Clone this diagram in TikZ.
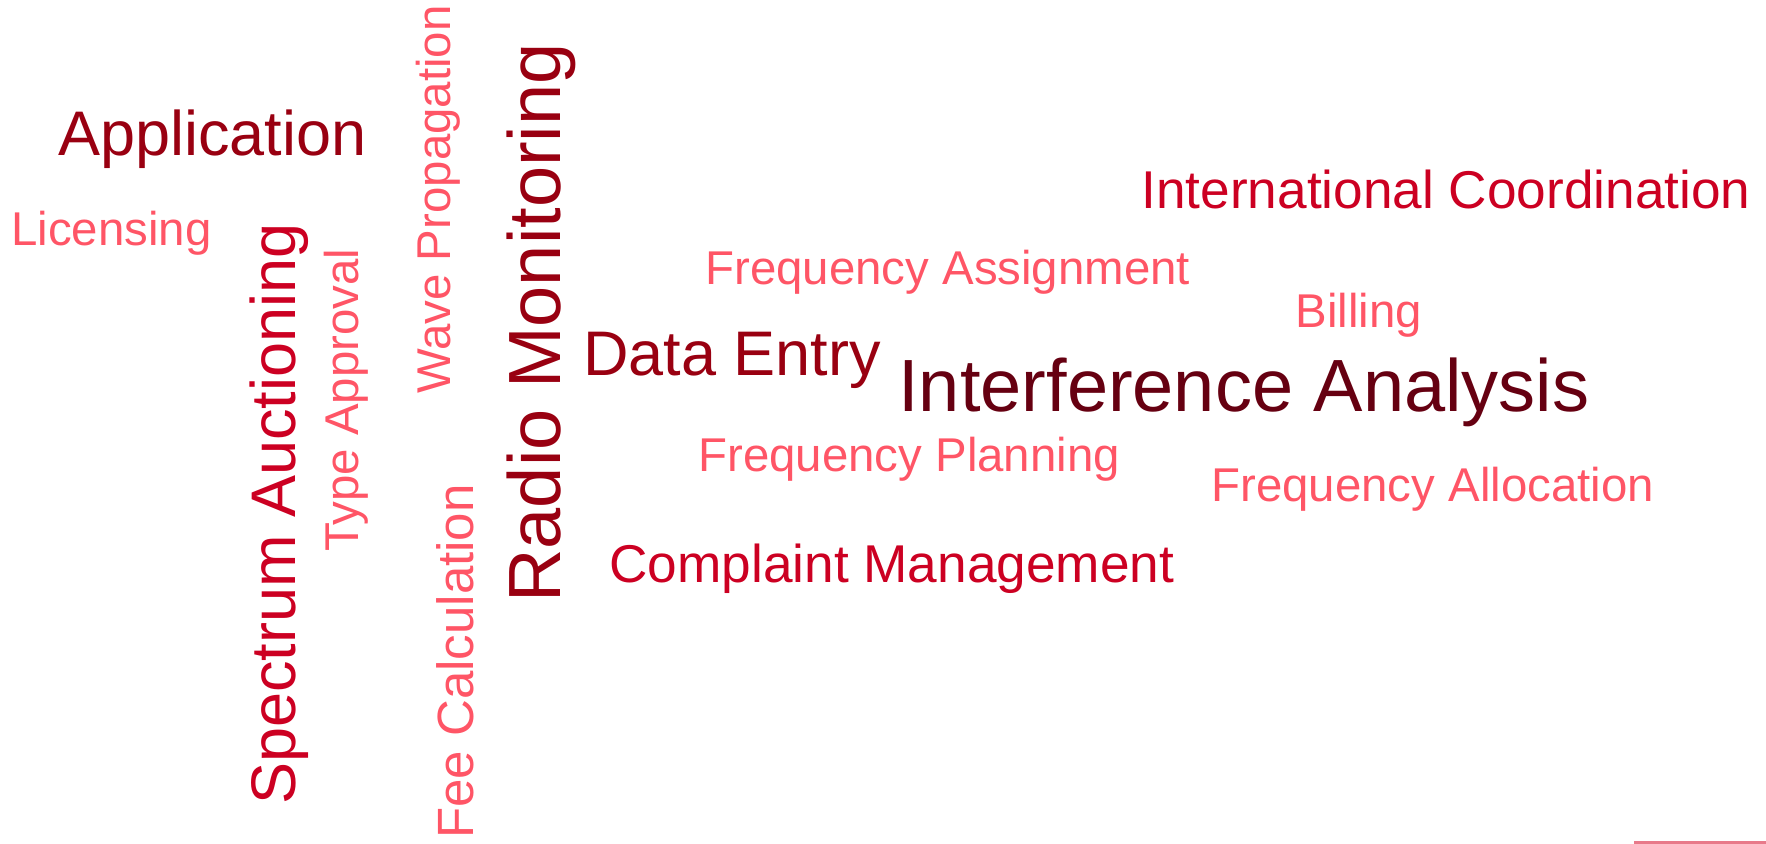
\documentclass[tikz,border=0pt]{standalone}
\usepackage{fontspec}
\setmainfont{Liberation Sans}
\usepackage{xcolor}
\definecolor{wine}{HTML}{660011}
\definecolor{crimson}{HTML}{990011}
\definecolor{scarlet}{HTML}{CC0022}
\definecolor{salmon}{HTML}{FF5566}
\definecolor{rulepink}{HTML}{E87A8A}
\usetikzlibrary{positioning}

\begin{document}
\begin{tikzpicture}[x=0.5pt, y=-0.5pt, word/.style={inner sep=0pt, anchor=base west}]
		\tikzset{up/.style={word, rotate=90}}
		\tikzset{huge/.style={font=\fontsize{37}{37}\selectfont}, large/.style={font=\fontsize{31.5}{31.5}\selectfont}, mid/.style={font=\fontsize{26.6}{26.6}\selectfont}, small/.style={font=\fontsize{23.7}{23.7}\selectfont}}
		\useasboundingbox (0,0) rectangle (1766,843);

		% horizontal words
		\node[word, large, text=crimson] (application) at (58,155) {Application};
		\node[word, small, text=salmon] (licensing) at (11,245) {Licensing};
		\node[word, mid, text=scarlet] (intcoord) at (1141,208) {International Coordination};
		\node[word, small, text=salmon] (freqassign) at (705,284) {Frequency Assignment};
		\node[word, small, text=salmon] (billing) at (1295,327) {Billing};
		\node[word, large, text=crimson] (dataentry) at (583,375) {Data Entry};
		\node[word, huge, text=wine] (interference) at (898,411) {Interference Analysis};
		\node[word, small, text=salmon] (freqplan) at (698,471) {Frequency Planning};
		\node[word, small, text=salmon] (freqalloc) at (1211,501) {Frequency Allocation};
		\node[word, mid, text=scarlet] (complaint) at (609,582) {Complaint Management};

		% vertical words
		\node[up, large, text=scarlet] (auction) at (295,805) {Spectrum Auctioning};
		\node[up, small, text=salmon] (typeappr) at (358,552) {Type Approval};
		\node[up, small, text=salmon] (wave) at (450,394) {Wave Propagation};
		\node[up, font=\fontsize{25.5}{25.5}\selectfont, text=salmon] (fee) at (473,839) {Fee Calculation};
		\node[up, huge, text=crimson] (radio) at (560,603) {Radio Monitoring};

		\draw[rulepink, line width=1.5] (1634,842) -- (1766,842);
	\end{tikzpicture}
\end{document}
